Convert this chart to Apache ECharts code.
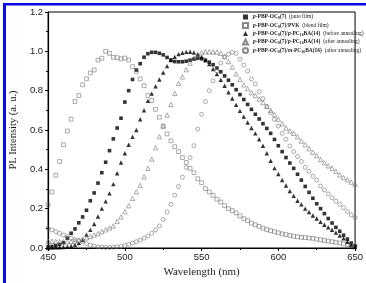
<!DOCTYPE html>
<html>
<head>
<meta charset="utf-8">
<script src="https://cdn.jsdelivr.net/npm/echarts@6/dist/echarts.min.js"></script>
<style>
  html, body { margin: 0; padding: 0; background: #fff; }
  #plChart { width: 366px; height: 283px; }
</style>
</head>
<body>
<div id="plChart"></div>
<script>
// 波长 (nm)
var wavelength = [
    450, 452.5, 455, 457.5, 460, 462.5, 465, 467.5, 470, 472.5,
    475, 477.5, 480, 482.5, 485, 487.5, 490, 492.5, 495, 497.5,
    500, 502.5, 505, 507.5, 510, 512.5, 515, 517.5, 520, 522.5,
    525, 527.5, 530, 532.5, 535, 537.5, 540, 542.5, 545, 547.5,
    550, 552.5, 555, 557.5, 560, 562.5, 565, 567.5, 570, 572.5,
    575, 577.5, 580, 582.5, 585, 587.5, 590, 592.5, 595, 597.5,
    600, 602.5, 605, 607.5, 610, 612.5, 615, 617.5, 620, 622.5,
    625, 627.5, 630, 632.5, 635, 637.5, 640, 642.5, 645, 647.5, 650
];

// p-PBP-OC8(7) (pure film)
var pureFilm = [
    0.005, 0.008, 0.012, 0.018, 0.027, 0.05, 0.075, 0.097, 0.128, 0.158,
    0.192, 0.24, 0.28, 0.33, 0.383, 0.436, 0.495, 0.555, 0.61, 0.66,
    0.742, 0.80, 0.857, 0.905, 0.937, 0.97, 0.988, 0.995, 0.995, 0.99,
    0.982, 0.969, 0.956, 0.948, 0.947, 0.947, 0.95, 0.955, 0.96, 0.965,
    0.962, 0.955, 0.945, 0.932, 0.915, 0.896, 0.875, 0.853, 0.83, 0.805,
    0.78, 0.755, 0.73, 0.705, 0.68, 0.656, 0.632, 0.608, 0.583, 0.552,
    0.52, 0.49, 0.46, 0.432, 0.405, 0.375, 0.345, 0.313, 0.283, 0.253,
    0.225, 0.2, 0.175, 0.15, 0.127, 0.105, 0.085, 0.065, 0.045, 0.025, 0.01
];

// p-PBP-OC8(7)/PVK (blend film)
var blendFilm = [
    0.22, 0.285, 0.37, 0.44, 0.525, 0.595, 0.655, 0.745, 0.775, 0.83,
    0.86, 0.89, 0.905, 0.955, 0.965, 1.0, 0.99, 0.97, 0.968, 0.962,
    0.966, 0.955, 0.922, 0.898, 0.86, 0.825, 0.775, 0.75, 0.705, 0.665,
    0.62, 0.58, 0.545, 0.515, 0.49, 0.46, 0.435, 0.405, 0.383, 0.352,
    0.332, 0.302, 0.285, 0.268, 0.248, 0.234, 0.215, 0.2, 0.19, 0.178,
    0.163, 0.149, 0.139, 0.126, 0.118, 0.11, 0.101, 0.094, 0.088, 0.083,
    0.077, 0.072, 0.068, 0.064, 0.06, 0.057, 0.054, 0.053, 0.051, 0.049,
    0.045, 0.042, 0.038, 0.035, 0.032, 0.029, 0.025, 0.021, 0.017, 0.013, 0.01
];

// p-PBP-OC8(7)/p-PC16BA(14) (before annealing)
var pBefore = [
    0.0, 0.002, 0.003, 0.004, 0.005, 0.007, 0.01, 0.015, 0.025, 0.04,
    0.068, 0.092, 0.122, 0.16, 0.2, 0.237, 0.278, 0.325, 0.38, 0.435,
    0.482, 0.525, 0.565, 0.6, 0.655, 0.7, 0.748, 0.785, 0.822, 0.857,
    0.892, 0.925, 0.956, 0.972, 0.986, 0.993, 0.997, 0.998, 0.994, 0.985,
    0.972, 0.955, 0.935, 0.91, 0.885, 0.855, 0.825, 0.792, 0.76, 0.728,
    0.697, 0.668, 0.638, 0.61, 0.583, 0.553, 0.52, 0.482, 0.444, 0.406,
    0.376, 0.346, 0.318, 0.29, 0.265, 0.24, 0.222, 0.2, 0.183, 0.165,
    0.15, 0.133, 0.118, 0.105, 0.093, 0.078, 0.063, 0.049, 0.032, 0.015, 0.005
];

// p-PBP-OC8(7)/p-PC16BA(14) (after annealing)
var pAfter = [
    0.035, 0.034, 0.033, 0.032, 0.032, 0.032, 0.033, 0.036, 0.04, 0.046,
    0.052, 0.058, 0.066, 0.074, 0.083, 0.093, 0.102, 0.112, 0.135, 0.158,
    0.185, 0.215, 0.252, 0.285, 0.318, 0.362, 0.405, 0.452, 0.51, 0.566,
    0.62, 0.676, 0.73, 0.786, 0.837, 0.87, 0.907, 0.94, 0.965, 0.982,
    0.993, 0.998, 0.998, 0.997, 0.997, 0.99, 0.975, 0.948, 0.92, 0.885,
    0.857, 0.83, 0.81, 0.79, 0.775, 0.757, 0.74, 0.72, 0.70, 0.678,
    0.655, 0.632, 0.61, 0.595, 0.583, 0.566, 0.544, 0.525, 0.505, 0.487,
    0.47, 0.45, 0.433, 0.418, 0.405, 0.39, 0.372, 0.358, 0.347, 0.335, 0.325
];

// p-PBP-OC8(7)/m-PC16BA(16) (after annealing)
var mAfter = [
    0.1, 0.092, 0.083, 0.075, 0.066, 0.058, 0.05, 0.042, 0.037, 0.03,
    0.022, 0.015, 0.01, 0.006, 0.004, 0.003, 0.003, 0.004, 0.006, 0.009,
    0.013, 0.018, 0.025, 0.032, 0.04, 0.05, 0.06, 0.075, 0.092, 0.112,
    0.145, 0.183, 0.222, 0.268, 0.312, 0.36, 0.41, 0.46, 0.52, 0.605,
    0.68, 0.745, 0.8, 0.85, 0.9, 0.94, 0.97, 0.985, 0.995, 0.99,
    0.96, 0.93, 0.9, 0.86, 0.835, 0.795, 0.76, 0.72, 0.688, 0.654,
    0.62, 0.583, 0.553, 0.519, 0.49, 0.465, 0.44, 0.41, 0.39, 0.365,
    0.345, 0.315, 0.295, 0.275, 0.255, 0.238, 0.222, 0.205, 0.185, 0.168, 0.155
];

var seriesNames = ['pure', 'blend', 'before', 'afterP', 'afterM'];
var seriesValues = [pureFilm, blendFilm, pBefore, pAfter, mAfter];
var legendTexts = {
    pure: '{i|p}{b|-PBP-OC}{s|8}{b|(7)}  {n|(pure film)}',
    blend: '{i|p}{b|-PBP-OC}{s|8}{b|(7)/PVK}  {n|(blend film)}',
    before: '{i|p}{b|-PBP-OC}{s|8}{b|(7)/}{i|p}{b|-PC}{s|16}{b|BA(14)}  {n|(before annealing)}',
    afterP: '{i|p}{b|-PBP-OC}{s|8}{b|(7)/}{i|p}{b|-PC}{s|16}{b|BA(14)}  {n|(after annealing)}',
    afterM: '{i|p}{b|-PBP-OC}{s|8}{b|(7)/}{i|m}{b|-PC}{s|16}{b|BA(16)}  {n|(after annealing)}'
};
// 标记样式: 实心 / 空心
var symbols = ['rect', 'rect', 'triangle', 'triangle', 'circle'];
var symbolSizes = [3.6, 3.8, 4.4, 4.4, 4];
var hollow = [false, true, false, true, true];

function pairs(ys) {
    var out = [];
    for (var i = 0; i < ys.length; i++) {
        out.push([wavelength[i], ys[i]]);
    }
    return out;
}

var serif = '"Liberation Serif", "DejaVu Serif", serif';
var sans = '"Liberation Sans", Arial, sans-serif';

var series = [];
for (var k = 0; k < seriesNames.length; k++) {
    series.push({
        name: seriesNames[k],
        type: 'scatter',
        data: pairs(seriesValues[k]),
        symbol: symbols[k],
        symbolSize: symbolSizes[k],
        itemStyle: hollow[k]
            ? { color: 'rgba(255,255,255,0)', borderColor: '#6a6a6a', borderWidth: 0.7 }
            : { color: '#000', borderWidth: 0 },
        silent: true
    });
}

var myChart = echarts.init(document.getElementById('plChart'), null, { renderer: 'canvas' });

var option = {
    animation: false,
    backgroundColor: '#fff',
    grid: {
        left: 45, right: 5, top: 12, bottom: 35,
        show: true, borderColor: '#000', borderWidth: 1
    },
    graphic: [
        { type: 'rect', shape: { x: 3, y: 3, width: 366, height: 2.5 }, style: { fill: '#0a0ae6' } },
        { type: 'rect', shape: { x: 3, y: 3, width: 3, height: 283 }, style: { fill: '#0a0ae6' } }
    ],
    legend: {
        orient: 'vertical',
        left: 237,
        top: 9,
        itemWidth: 5,
        itemHeight: 5,
        itemGap: 1.5,
        data: seriesNames,
        formatter: function (name) { return legendTexts[name]; },
        textStyle: {
            fontFamily: serif,
            fontSize: 5.5,
            color: '#222',
            rich: {
                i: { fontFamily: serif, fontSize: 5.5, fontStyle: 'italic', fontWeight: 'bold', color: '#222' },
                b: { fontFamily: serif, fontSize: 5.5, fontWeight: 'bold', color: '#222' },
                s: { fontFamily: serif, fontSize: 3.8, fontWeight: 'bold', color: '#222', padding: [3, 0, 0, 0] },
                n: { fontFamily: serif, fontSize: 5.5, color: '#222' }
            }
        }
    },
    xAxis: {
        type: 'value',
        min: 450,
        max: 650,
        interval: 50,
        name: 'Wavelength (nm)',
        nameLocation: 'middle',
        nameGap: 17,
        nameTextStyle: { fontFamily: serif, fontSize: 11, color: '#222' },
        axisLine: { lineStyle: { color: '#000', width: 1.2 } },
        axisTick: { inside: false, length: 3, lineStyle: { color: '#000' } },
        minorTick: { show: true, splitNumber: 2, length: 2, lineStyle: { color: '#000' } },
        axisLabel: { fontFamily: sans, fontSize: 9.5, color: '#222', margin: 4 },
        splitLine: { show: false }
    },
    yAxis: {
        type: 'value',
        min: 0,
        max: 1.2,
        interval: 0.2,
        name: 'PL Intensity (a. u.)',
        nameLocation: 'middle',
        nameGap: 27,
        nameTextStyle: { fontFamily: serif, fontSize: 10.5, color: '#222' },
        axisLine: { show: true, lineStyle: { color: '#000', width: 1.2 } },
        axisTick: { show: true, inside: false, length: 3, lineStyle: { color: '#000' } },
        minorTick: { show: true, splitNumber: 2, length: 2, lineStyle: { color: '#000' } },
        axisLabel: {
            fontFamily: sans, fontSize: 9.5, color: '#222', margin: 5,
            formatter: function (v) { return v.toFixed(1); }
        },
        splitLine: { show: false }
    },
    series: series
};

myChart.setOption(option);
</script>
</body>
</html>
